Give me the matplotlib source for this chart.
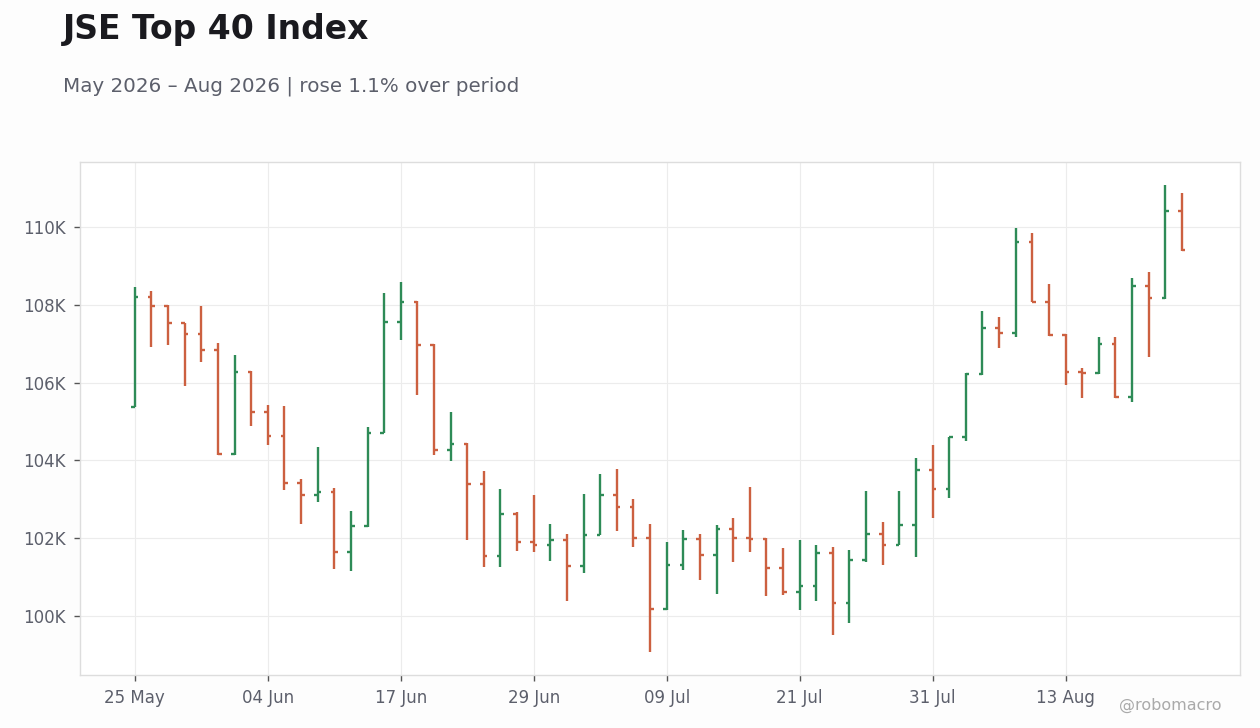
import matplotlib
matplotlib.use("Agg")
import matplotlib.pyplot as plt
import numpy as np
import pandas as pd

# Trading days (JSE calendar: 16 Jun and 10 Aug are public holidays)
dates = pd.bdate_range("2026-05-25", "2026-08-24", freq="C",
                       holidays=["2026-06-16", "2026-08-10"])

opens = [105375, 108187, 107956, 107519, 107236, 106824, 104166, 106258, 105255, 104638,
         103429, 103121, 103198, 101655, 102323, 104715, 107544, 108059, 106953, 104278,
         104432, 103403, 101552, 102632, 101912, 101835, 101946, 101295, 102092, 103121,
         102812, 102015, 100189, 101320, 101989, 101577, 102229, 102015, 101989, 101243,
         100626, 100780, 101629, 100334, 101449, 102118, 101835, 102349, 103764, 103275,
         104595, 106207, 107390, 107261, 109602, 108076, 107210, 106258, 106233, 106978,
         105632, 108470, 108161, 110399]
highs = [108462, 108359, 107990, 107540, 107973, 107021, 106713, 106300, 105427, 105401,
         103524, 104347, 103283, 102700, 104861, 108307, 108590, 108100, 107000, 105247,
         104440, 103729, 103266, 102660, 103112, 102366, 102109, 103138, 103652, 103781,
         103009, 102366, 101903, 102212, 102109, 102340, 102520, 103318, 102000, 101749,
         101955, 101826, 101775, 101697, 103215, 102418, 103215, 104064, 104398, 104600,
         106241, 107844, 107690, 109979, 109850, 108539, 107240, 106378, 107176, 107176,
         108693, 108847, 111068, 110879]
lows = [105375, 106901, 106953, 105898, 106515, 104141, 104141, 104895, 104398, 103241,
        102375, 102941, 101217, 101166, 102298, 104700, 107081, 105692, 104149, 103995,
        101963, 101269, 101252, 101680, 101655, 101423, 100394, 101097, 102070, 102195,
        101783, 99083, 100160, 101192, 100934, 100574, 101397, 101655, 100523, 100549,
        100160, 100394, 99520, 99829, 101400, 101320, 101820, 101526, 102529, 103043,
        104509, 106190, 106876, 107158, 108060, 107185, 105924, 105615, 106210, 105615,
        105487, 106644, 108150, 109380]
closes = [108187, 107956, 107519, 107236, 106824, 104166, 106258, 105255, 104638, 103429,
          103121, 103198, 101655, 102323, 104715, 107544, 108059, 106953, 104278, 104432,
          103403, 101552, 102632, 101912, 101835, 101946, 101295, 102092, 103121, 102812,
          102015, 100189, 101320, 101989, 101577, 102229, 102015, 101989, 101243, 100626,
          100780, 101629, 100334, 101449, 102118, 101835, 102349, 103764, 103275, 104595,
          106207, 107390, 107261, 109602, 108076, 107210, 106258, 106233, 106978, 105632,
          108470, 108161, 110399, 109396]

tick_idx = [0, 8, 16, 24, 32, 40, 48, 56]
y_ticks = [100000, 102000, 104000, 106000, 108000, 110000]

UP = "#2e8b57"
DOWN = "#cc6040"
TXT = "#5c5f6b"

fig = plt.figure(figsize=(12.6, 7.28), dpi=100, facecolor="#fdfdfd")
ax = fig.add_axes([80/1260, 1-675/728, 1160/1260, 513/728])
ax.set_facecolor("white")

x = np.arange(len(opens))
o = np.array(opens); h = np.array(highs); l = np.array(lows); c = np.array(closes)
cols = [UP if cc >= oo else DOWN for oo, cc in zip(o, c)]
tw = 0.22
ax.vlines(x, l, h, colors=cols, linewidth=1.7, zorder=3)
ax.hlines(o, x - tw, x, colors=cols, linewidth=1.7, zorder=3)
ax.hlines(c, x, x + tw, colors=cols, linewidth=1.7, zorder=3)

lo, hi = min(lows), max(highs)
rng = hi - lo
ax.set_ylim(lo - 0.05*rng, hi + 0.05*rng)
ax.set_xlim(-3.3, 66.5)

ax.set_yticks(y_ticks)
ax.set_yticklabels([f"{v//1000}K" for v in y_ticks])
ax.set_xticks(tick_idx)
ax.set_xticklabels([dates[i].strftime("%d %b") for i in tick_idx])

ax.grid(True, color="#ececec", linewidth=0.8, zorder=0)
ax.set_axisbelow(True)
for s in ax.spines.values():
    s.set_color("#dddddd")
    s.set_linewidth(1.0)
ax.tick_params(axis="both", colors="#555555", labelcolor=TXT, labelsize=12,
               length=4, width=1)
ax.tick_params(axis="y", pad=6)
ax.tick_params(axis="x", pad=6)

first_close, last_close = closes[0], closes[-1]
pct = (last_close - first_close) / first_close * 100
word = "rose" if pct >= 0 else "fell"
fig.text(63/1260, 1-30/728, "JSE Top 40 Index", fontsize=23.8, fontweight="bold",
         color="#1a1a1f", va="center", ha="left")
fig.text(63/1260, 1-86/728,
         f"{dates[0].strftime('%b %Y')} – {dates[-1].strftime('%b %Y')} | {word} {abs(pct):.1f}% over period",
         fontsize=14.3, color=TXT, va="center", ha="left")
fig.text(1222/1260, 1-705/728, "@robomacro", fontsize=11.5, color="#aaaaaa",
         va="center", ha="right")

fig.savefig("out.png", dpi=100, facecolor=fig.get_facecolor())
